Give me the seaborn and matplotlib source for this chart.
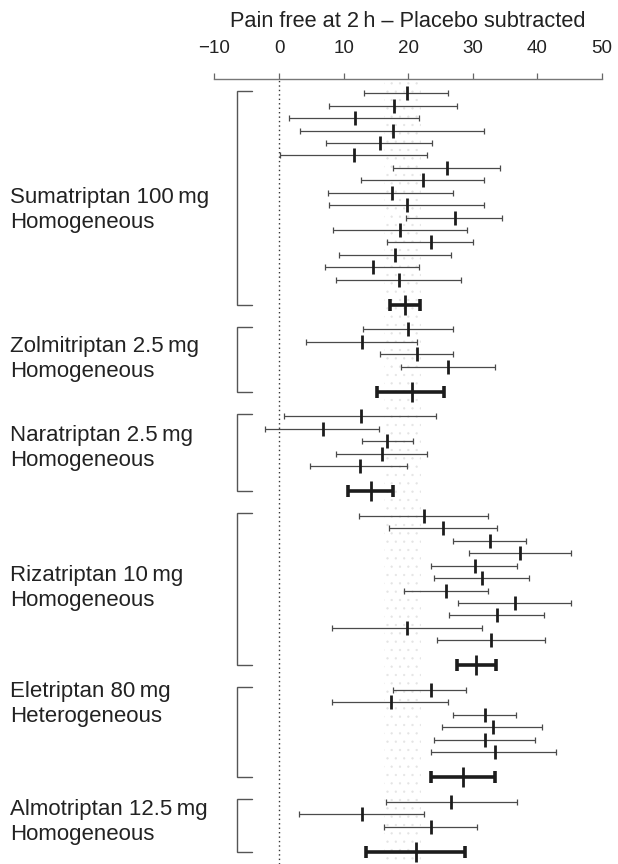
import numpy as np
import pandas as pd
import matplotlib
matplotlib.use("Agg")
import matplotlib.pyplot as plt
import seaborn as sns

# Placebo-subtracted pain-free response at 2 h (percentage points), per trial
groups = ["Sumatriptan 100\u2009mg", "Zolmitriptan 2.5\u2009mg", "Naratriptan 2.5\u2009mg",
          "Rizatriptan 10\u2009mg", "Eletriptan 80\u2009mg", "Almotriptan 12.5\u2009mg"]
heterogeneity = ["Homogeneous", "Homogeneous", "Homogeneous",
                 "Homogeneous", "Heterogeneous", "Homogeneous"]

suma_est = [19.8, 17.8, 11.7, 17.6, 15.7, 11.6, 26.0, 22.3, 17.5, 19.8, 27.2, 18.8, 23.6, 18.0, 14.6, 18.6]
suma_lo = [13.2, 7.8, 1.6, 3.3, 7.3, 0.2, 17.7, 12.7, 7.6, 7.8, 19.7, 8.3, 16.8, 9.3, 7.2, 8.8]
suma_hi = [26.2, 27.6, 21.7, 31.8, 23.7, 22.9, 34.3, 31.8, 27.0, 31.7, 34.6, 29.2, 30.0, 26.6, 21.7, 28.2]

zolm_est = [20.0, 12.8, 21.4, 26.2]
zolm_lo = [13.0, 4.2, 15.7, 18.9]
zolm_hi = [26.9, 21.4, 26.9, 33.5]

nara_est = [12.7, 6.8, 16.8, 16.0, 12.5]
nara_lo = [0.7, -2.1, 12.9, 8.8, 4.8]
nara_hi = [24.3, 15.5, 20.8, 22.9, 19.8]

riza_est = [22.5, 25.4, 32.7, 37.3, 30.3, 31.4, 25.9, 36.6, 33.8, 19.9, 32.9]
riza_lo = [12.4, 17.0, 26.9, 29.4, 23.6, 24.0, 19.4, 27.8, 26.3, 8.2, 24.5]
riza_hi = [32.4, 33.7, 38.3, 45.2, 36.9, 38.7, 32.4, 45.2, 41.1, 31.5, 41.2]

elet_est = [23.5, 17.3, 31.9, 33.1, 31.9, 33.4]
elet_lo = [17.7, 8.2, 27.0, 25.2, 24.0, 23.6]
elet_hi = [29.0, 26.2, 36.7, 40.8, 39.7, 42.9]

almo_est = [26.7, 12.8, 23.6]
almo_lo = [16.6, 3.1, 16.3]
almo_hi = [36.9, 22.4, 30.6]

# Pooled estimate and 95% CI for each drug
pooled_est = [19.5, 20.6, 14.3, 30.5, 28.5, 21.2]
pooled_lo = [17.2, 15.2, 10.7, 27.5, 23.6, 13.4]
pooled_hi = [21.9, 25.6, 17.6, 33.6, 33.5, 28.8]

# Overall summary band shown behind the trials
band_lo, band_hi = 16.3, 22.0

x_ticks = [-10, 0, 10, 20, 30, 40, 50]
x_title = "Pain free at 2\u2009h \u2013 Placebo subtracted"

study_sets = [(suma_est, suma_lo, suma_hi), (zolm_est, zolm_lo, zolm_hi),
              (nara_est, nara_lo, nara_hi), (riza_est, riza_lo, riza_hi),
              (elet_est, elet_lo, elet_hi), (almo_est, almo_lo, almo_hi)]

# ---- build one tidy table: trials stacked per drug, pooled row after a gap
records = []
brackets = []
row = 0
for gi, (est, lo, hi) in enumerate(study_sets):
    first = row
    for e, l, h in zip(est, lo, hi):
        records.append(dict(group=groups[gi], row=row, est=e, lo=l, hi=h, pooled=False))
        row += 1
    prow = row + 1
    records.append(dict(group=groups[gi], row=prow, est=pooled_est[gi],
                        lo=pooled_lo[gi], hi=pooled_hi[gi], pooled=True))
    brackets.append((first, prow))
    row = prow + 2
df = pd.DataFrame(records)
trials = df[~df.pooled]
pooled = df[df.pooled]

sns.set_theme(style="white")
plt.rcParams["font.family"] = ["Liberation Sans", "DejaVu Sans"]
plt.rcParams["hatch.linewidth"] = 0.4

W, H = 618, 864
fig = plt.figure(figsize=(W / 100, H / 100), dpi=100)
ax = fig.add_axes([214.5 / W, 0.0, (601.7 - 214.5) / W, 1 - 79 / H])

ink = "#1c1c1c"
line_c = "#4a4a4a"

# faint stippled summary band
ax.axvspan(band_lo, band_hi, facecolor="none", edgecolor="#e4e4e4",
           hatch="..", linewidth=0, zorder=0)

# line of no effect
ax.axvline(0, color="#333333", lw=1.0, ls=(0, (1, 2.2)), zorder=1)

# trial confidence intervals
ax.errorbar(trials["est"], trials["row"],
            xerr=[trials["est"] - trials["lo"], trials["hi"] - trials["est"]],
            fmt="none", ecolor=line_c, elinewidth=0.9, capsize=2.4, capthick=0.9, zorder=2)
sns.scatterplot(data=trials, x="est", y="row", marker="|", s=110, linewidth=2.0,
                color=ink, legend=False, ax=ax, zorder=3)

# pooled estimates
ax.errorbar(pooled["est"], pooled["row"],
            xerr=[pooled["est"] - pooled["lo"], pooled["hi"] - pooled["est"]],
            fmt="none", ecolor=ink, elinewidth=2.6, capsize=4.0, capthick=2.6, zorder=2)
sns.scatterplot(data=pooled, x="est", y="row", marker="|", s=200, linewidth=2.0,
                color=ink, legend=False, ax=ax, zorder=3)

# brackets grouping each drug
for top, bottom in brackets:
    ax.plot([-4.2, -6.5, -6.5, -4.2], [top - 0.2, top - 0.2, bottom, bottom],
            color="#555555", lw=1.0, solid_joinstyle="miter", zorder=2)

# drug labels on the left
label_rows = [9.35, 21.4, 28.55, 39.8, 49.15, 58.65]
for gi in range(len(groups)):
    ax.text(-41.7, label_rows[gi], groups[gi] + "\n" + heterogeneity[gi],
            ha="left", va="center", fontsize=16, linespacing=1.25,
            color="#222222", clip_on=False)

# axis on top only
ax.set_xlim(-10, 50)
ax.set_ylim(62.0, -1.15)
ax.set_xticks(x_ticks)
ax.set_yticks([])
ax.xaxis.tick_top()
ax.tick_params(axis="x", which="both", top=True, bottom=False, direction="out",
               length=4, width=0.9, color="#666666", pad=12,
               labelsize=13.5, labelcolor="#222222")
for side in ["left", "right", "bottom"]:
    ax.spines[side].set_visible(False)
ax.spines["top"].set_color("#777777")
ax.spines["top"].set_linewidth(1.0)
ax.set_xlabel("")
ax.set_ylabel("")
ax.patch.set_alpha(0)

fig.text((279 + 6.45 * 20) / W, 1 - 27.3 / H, x_title,
         ha="center", va="baseline", fontsize=15.7, color="#222222")

fig.savefig("out.png", dpi=100)
